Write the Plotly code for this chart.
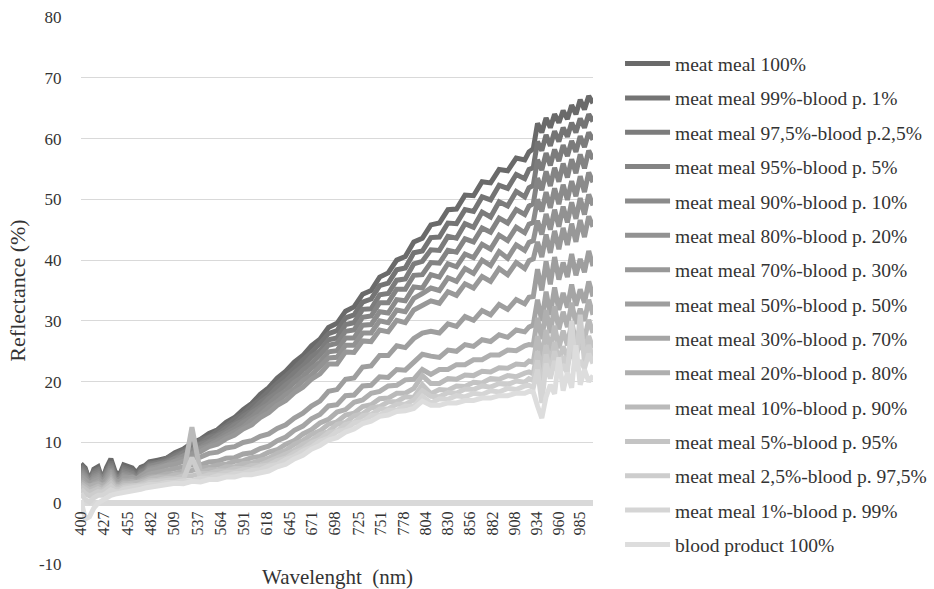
import plotly.graph_objects as go

wavelength = [400, 405, 410, 415, 420, 425, 430, 435, 440, 445, 450, 455, 460, 465, 470, 475, 480,
              490, 500, 510, 520, 530, 540, 550, 560, 570, 580,
              590, 600, 610, 620, 630, 640, 650, 660, 670, 680,
              690, 700, 710, 720, 730, 740, 750, 760, 770, 780,
              790, 800, 810, 820, 830, 840, 850, 860, 870, 880,
              890, 900, 910, 920,
              925, 930, 935, 940, 945, 950, 955, 960, 965, 970, 975, 980, 985, 990, 995, 1000]

tick_labels = [400, 427, 455, 482, 509, 537, 564, 591, 618, 645, 671, 698,
               725, 751, 778, 804, 830, 856, 882, 908, 934, 960, 985]

y_ticks = [-10, 0, 10, 20, 30, 40, 50, 60, 70, 80]
y_tick_text = ["-10", "0", "10", "20", "30", "40", "50", "60", "70", "80"]

series_names = [
    "meat meal 100%",
    "meat meal 99%-blood p. 1%",
    "meat meal 97,5%-blood p.2,5%",
    "meat meal 95%-blood p. 5%",
    "meat meal 90%-blood p. 10%",
    "meat meal 80%-blood p. 20%",
    "meat meal 70%-blood p. 30%",
    "meat meal 50%-blood p. 50%",
    "meat meal 30%-blood p. 70%",
    "meat meal 20%-blood p. 80%",
    "meat meal 10%-blood p. 90%",
    "meat meal 5%-blood p. 95%",
    "meat meal 2,5%-blood p. 97,5%",
    "meat meal 1%-blood p. 99%",
    "blood product 100%",
]

mm100 = [6.5, 5.8, 3.5, 5.6, 6.0, 3.8, 5.9, 7.3, 5.2, 4.6, 6.3, 6.0, 5.8, 5.0, 5.9, 6.2, 6.8,
         7.1, 7.4, 8.3, 8.9, 9.9, 10.5, 11.5, 12.1, 13.3, 14.1,
         15.4, 16.4, 17.9, 19.0, 20.6, 21.7, 23.2, 24.3, 25.9, 27.0,
         28.9, 29.6, 31.6, 32.3, 34.4, 35.0, 37.2, 37.9, 40.0, 40.6,
         43.0, 43.6, 45.8, 46.1, 48.3, 48.4, 50.7, 50.6, 52.9, 52.7,
         54.9, 54.7, 56.8, 56.5,
         57.8, 58.3, 62.5, 61.0, 63.4, 61.8, 64.0, 62.6, 64.6, 63.2, 65.5, 64.0, 66.4, 64.8, 67.0, 65.8]
mm99 = [6.2, 5.5, 4.0, 5.3, 5.6, 4.2, 5.5, 6.8, 4.9, 4.4, 5.9, 5.7, 5.4, 4.7, 5.6, 5.9, 6.6,
        6.7, 7.4, 7.9, 8.8, 9.4, 10.4, 10.9, 11.9, 12.7, 13.8,
        14.7, 16.0, 17.1, 18.5, 19.7, 21.1, 22.2, 23.6, 24.8, 26.3,
        27.9, 28.4, 30.5, 31.0, 33.1, 33.6, 35.8, 36.2, 38.4, 38.7,
        41.2, 41.5, 43.7, 43.8, 46.1, 46.0, 48.3, 48.0, 50.4, 49.9,
        52.3, 51.8, 54.1, 53.4,
        54.9, 55.2, 59.5, 58.0, 60.6, 58.8, 61.2, 59.5, 61.8, 60.3, 62.6, 61.0, 63.3, 61.8, 64.0, 62.8]
mm975 = [6.0, 5.2, 3.3, 5.0, 5.4, 3.5, 5.2, 6.5, 4.6, 3.8, 5.6, 5.4, 5.1, 4.3, 5.3, 5.6, 6.4,
         6.7, 7.0, 7.8, 8.4, 9.3, 9.8, 10.8, 11.3, 12.4, 13.1,
         14.3, 15.2, 16.6, 17.6, 19.1, 20.1, 21.5, 22.6, 24.1, 25.1,
         26.9, 27.2, 29.4, 29.7, 31.9, 32.0, 34.3, 34.5, 36.7, 36.9,
         39.4, 39.8, 41.7, 41.6, 43.9, 43.6, 46.0, 45.4, 47.9, 47.1,
         49.6, 48.9, 51.3, 50.4,
         51.9, 52.3, 56.5, 54.8, 57.6, 55.6, 58.2, 56.3, 58.9, 57.1, 59.6, 57.8, 60.4, 58.6, 61.0, 59.8]
mm95 = [5.7, 4.9, 3.8, 4.8, 5.1, 3.9, 5.0, 6.2, 4.4, 4.2, 5.3, 5.1, 4.9, 4.1, 5.1, 5.4, 6.2,
        6.4, 7.0, 7.4, 8.3, 8.8, 9.7, 10.2, 11.1, 11.8, 12.9,
        13.6, 14.9, 15.8, 17.2, 18.2, 19.5, 20.5, 21.9, 23.0, 24.4,
        26.0, 26.3, 28.3, 28.5, 30.6, 30.8, 33.0, 33.0, 35.2, 35.2,
        37.5, 37.6, 39.6, 39.5, 41.6, 41.3, 43.5, 43.0, 45.3, 44.6,
        46.9, 46.1, 48.3, 47.5,
        48.9, 49.3, 53.5, 51.5, 54.6, 52.2, 55.2, 52.9, 55.9, 53.6, 56.6, 54.3, 57.4, 55.1, 58.0, 56.6]
mm90 = [5.4, 4.6, 3.0, 4.5, 4.8, 3.2, 4.7, 5.9, 4.1, 3.4, 5.0, 4.9, 4.6, 3.8, 4.8, 5.1, 6.0,
        6.4, 6.6, 7.4, 7.8, 8.7, 9.2, 10.0, 10.5, 11.5, 12.2,
        13.3, 14.1, 15.4, 16.3, 17.6, 18.5, 19.9, 20.8, 22.2, 23.2,
        24.9, 25.1, 27.2, 27.2, 29.3, 29.4, 31.5, 31.3, 33.5, 33.3,
        35.6, 35.4, 37.6, 37.2, 39.4, 38.9, 41.0, 40.4, 42.6, 41.8,
        44.1, 43.2, 45.4, 44.5,
        45.9, 46.2, 50.0, 48.0, 51.2, 48.6, 51.8, 49.2, 52.4, 49.9, 53.0, 50.5, 53.8, 51.2, 54.4, 52.8]
mm80 = [5.1, 4.3, 3.5, 4.2, 4.5, 3.6, 4.4, 5.6, 3.9, 3.9, 4.7, 4.6, 4.4, 3.6, 4.6, 4.9, 5.8,
        6.0, 6.6, 6.9, 7.8, 8.2, 9.0, 9.5, 10.3, 10.9, 11.9,
        12.5, 13.7, 14.5, 15.8, 16.7, 17.9, 18.8, 20.2, 21.1, 22.5,
        23.9, 24.0, 26.0, 26.0, 28.0, 28.0, 30.0, 29.7, 31.8, 31.5,
        33.7, 34.5, 35.4, 35.0, 37.1, 36.5, 38.6, 37.8, 40.0, 39.1,
        41.4, 40.3, 42.5, 41.6,
        42.9, 43.2, 46.5, 44.2, 47.6, 45.0, 48.3, 45.5, 48.8, 46.2, 49.5, 46.8, 50.2, 47.5, 50.8, 49.0]
mm70 = [4.8, 4.0, 2.8, 3.9, 4.2, 3.0, 4.1, 5.3, 3.6, 3.2, 4.5, 4.4, 4.1, 3.4, 4.3, 4.6, 5.6,
        6.0, 6.2, 6.9, 7.3, 8.1, 8.5, 9.3, 9.7, 10.6, 11.2,
        12.2, 12.9, 14.1, 14.9, 16.1, 16.9, 18.2, 19.1, 20.4, 21.3,
        22.9, 22.9, 24.9, 24.8, 26.7, 26.6, 28.5, 28.2, 30.1, 29.7,
        31.8, 32.5, 33.3, 32.9, 34.8, 34.2, 36.1, 35.4, 37.3, 36.5,
        38.6, 37.6, 39.6, 38.6,
        39.9, 40.2, 43.0, 40.5, 44.2, 41.2, 44.8, 41.8, 45.3, 42.5, 46.0, 43.0, 46.6, 43.8, 47.2, 45.5]
mm50 = [4.4, 3.8, 3.2, 3.6, 3.9, 3.3, 3.9, 4.9, 3.7, 3.5, 4.2, 4.2, 4.3, 4.0, 4.5, 4.9, 5.4,
        5.7, 6.2, 6.4, 7.0, 7.4, 7.6, 8.2, 8.4, 9.1, 9.3,
        10.0, 10.3, 11.0, 11.4, 12.3, 12.9, 14.0, 14.8, 16.0, 16.8,
        18.4, 18.7, 20.4, 20.6, 22.4, 22.6, 24.3, 24.3, 25.9, 25.6,
        27.1, 28.0, 28.3, 28.0, 29.5, 29.1, 30.7, 30.1, 31.7, 31.0,
        32.7, 31.9, 33.5, 32.8,
        33.9, 34.0, 38.5, 35.0, 39.8, 36.0, 40.5, 36.8, 39.6, 37.2, 41.0, 37.5, 40.2, 38.0, 41.5, 39.0]
mm30 = [4.0, 3.4, 2.6, 3.2, 3.5, 2.8, 3.5, 4.5, 3.3, 3.0, 3.8, 3.8, 3.9, 3.6, 4.1, 4.4, 4.8,
        5.1, 5.2, 5.7, 5.8, 6.3, 6.3, 6.8, 6.9, 7.4, 7.5,
        8.1, 8.3, 9.0, 9.4, 10.3, 10.9, 12.0, 12.7, 13.9, 14.6,
        16.0, 16.2, 17.7, 17.8, 19.3, 19.4, 20.8, 20.7, 22.0, 21.9,
        23.2, 24.5, 24.2, 24.0, 25.2, 25.0, 26.1, 25.8, 26.9, 26.6,
        27.7, 27.3, 28.5, 28.2,
        29.0, 29.3, 33.5, 30.0, 34.8, 31.0, 35.5, 31.8, 34.6, 32.2, 36.0, 32.5, 35.2, 33.0, 36.5, 34.0]
mm20 = [3.6, 3.0, 2.8, 2.9, 3.2, 2.9, 3.2, 4.1, 3.0, 3.0, 3.5, 3.5, 3.6, 3.4, 3.8, 4.0, 4.3,
        4.4, 4.8, 4.9, 5.3, 5.4, 5.8, 5.9, 6.3, 6.4, 6.9,
        7.0, 7.5, 7.7, 8.4, 8.8, 9.7, 10.3, 11.4, 12.1, 13.2,
        13.8, 15.0, 15.4, 16.6, 17.0, 18.1, 18.4, 19.3, 19.4, 20.3,
        20.4, 22.0, 21.2, 22.0, 22.0, 22.8, 22.8, 23.6, 23.6, 24.4,
        24.4, 25.2, 25.1, 25.9,
        26.1, 26.0, 30.5, 27.0, 31.8, 28.0, 32.4, 28.6, 31.5, 29.0, 33.0, 29.5, 32.0, 30.0, 33.5, 31.0]
mm10 = [3.2, 2.6, 2.2, 2.5, 2.8, 2.4, 2.9, 3.7, 2.8, 2.7, 3.2, 3.2, 3.3, 3.2, 3.5, 3.7, 4.0,
        4.3, 4.3, 4.7, 4.7, 12.5, 5.1, 5.5, 5.5, 6.0, 6.0,
        6.5, 6.6, 7.1, 7.4, 8.2, 8.7, 9.7, 10.3, 11.3, 11.9,
        13.0, 13.4, 14.5, 14.8, 15.9, 16.2, 17.2, 17.3, 18.1, 18.1,
        18.9, 21.0, 19.7, 19.7, 20.5, 20.4, 21.1, 21.0, 21.7, 21.6,
        22.3, 22.2, 22.9, 22.8,
        23.4, 23.2, 27.5, 24.0, 28.5, 25.0, 29.2, 25.5, 28.4, 26.0, 29.8, 26.4, 29.0, 27.0, 30.2, 28.0]
mm5 = [2.8, 2.2, 1.8, 2.1, 2.4, 2.1, 2.6, 3.3, 2.5, 2.5, 2.9, 3.0, 3.0, 2.9, 3.2, 3.4, 3.7,
       3.8, 4.1, 4.1, 4.5, 4.5, 4.9, 4.9, 5.3, 5.3, 5.7,
       5.7, 6.2, 6.3, 6.9, 7.3, 8.1, 8.7, 9.7, 10.3, 11.3,
       11.8, 13.0, 13.3, 14.4, 14.7, 15.7, 15.9, 16.7, 16.7, 17.5,
       17.4, 19.5, 18.0, 18.7, 18.6, 19.3, 19.2, 19.9, 19.8, 20.5,
       20.4, 21.0, 20.8, 21.4,
       21.6, 21.3, 25.0, 22.0, 26.0, 22.8, 26.5, 23.4, 25.8, 24.0, 27.0, 24.3, 26.4, 24.8, 27.5, 25.5]
mm25 = [2.3, 1.6, 1.2, 1.6, 1.9, 1.8, 2.2, 2.8, 2.2, 2.2, 2.6, 2.7, 2.8, 2.7, 3.0, 3.1, 3.4,
        3.6, 3.6, 3.9, 3.9, 7.5, 4.3, 4.7, 4.7, 5.1, 5.1,
        5.5, 5.6, 6.1, 6.3, 7.0, 7.4, 8.3, 8.9, 9.9, 10.5,
        11.6, 11.9, 13.0, 13.3, 14.4, 14.6, 15.5, 15.5, 16.3, 16.3,
        17.0, 18.5, 17.6, 17.5, 18.2, 18.1, 18.8, 18.7, 19.3, 19.1,
        19.7, 19.5, 20.1, 19.9,
        20.5, 20.2, 23.5, 19.0, 24.5, 21.5, 25.0, 22.0, 24.2, 22.5, 25.5, 22.8, 31.0, 23.2, 26.0, 24.0]
mm1 = [1.6, 0.6, 0.2, 0.9, 1.3, 1.3, 1.7, 2.2, 1.9, 1.9, 2.3, 2.4, 2.5, 2.5, 2.7, 2.9, 3.1,
       3.1, 3.4, 3.4, 3.7, 3.7, 4.1, 4.1, 4.5, 4.5, 4.9,
       4.9, 5.4, 5.5, 6.1, 6.4, 7.2, 7.7, 8.6, 9.2, 10.2,
       10.7, 11.8, 12.1, 13.2, 13.4, 14.4, 14.5, 15.3, 15.3, 16.0,
       15.9, 17.6, 16.5, 17.2, 17.1, 17.7, 17.5, 18.1, 17.9, 18.5,
       18.3, 18.9, 18.7, 19.3,
       19.4, 19.0, 22.0, 16.5, 23.0, 20.5, 23.4, 21.0, 22.8, 21.4, 30.0, 21.8, 23.5, 22.2, 24.6, 23.0]
blood100 = [0.5, -2.6, -2.2, -0.8, 0.0, 0.5, 0.9, 1.3, 1.5, 1.6, 1.8, 2.0, 2.1, 2.2, 2.3, 2.5, 2.6,
            2.9, 2.9, 3.3, 3.2, 3.6, 3.5, 3.9, 3.9, 4.3, 4.3,
            4.7, 4.7, 5.1, 5.3, 6.0, 6.4, 7.3, 7.9, 8.9, 9.5,
            10.4, 10.8, 11.7, 12.2, 13.1, 13.5, 14.3, 14.5, 15.1, 15.2,
            15.6, 16.8, 16.1, 16.1, 16.5, 16.5, 16.9, 16.9, 17.3, 17.3,
            17.7, 17.7, 18.1, 18.1,
            18.4, 18.3, 16.0, 14.0, 17.5, 19.5, 18.0, 24.0, 18.5, 21.5, 19.0, 26.0, 19.5, 22.0, 20.0, 21.0]

series_values = [mm100, mm99, mm975, mm95, mm90, mm80, mm70, mm50,
                 mm30, mm20, mm10, mm5, mm25, mm1, blood100]

gray_levels = [106, 116, 124, 132, 139, 146, 152, 158, 165, 175, 186, 196, 205, 213, 221]
colors = [f"rgb({g},{g},{g})" for g in gray_levels]

FONT = "Liberation Serif, Times New Roman, serif"
TXT = "#333333"

fig = go.Figure()
for name, vals, col in zip(series_names, series_values, colors):
    fig.add_trace(go.Scatter(
        x=wavelength, y=vals, mode="lines", name=name,
        legendgroup=name,
        line=dict(color=col, width=5),
        hoverinfo="skip",
    ))

fig.update_layout(
    width=934, height=589,
    margin=dict(l=81, r=341, t=17, b=25, autoexpand=False),
    plot_bgcolor="white", paper_bgcolor="white",
    font=dict(family=FONT, color=TXT),
    showlegend=True,
    legend=dict(
        x=1.0528, y=0.950, xanchor="left", yanchor="top",
        font=dict(family=FONT, size=19.5, color=TXT),
        tracegroupgap=6,
        itemwidth=45,
        maxheight=600,
        bgcolor="rgba(0,0,0,0)",
    ),
    xaxis=dict(
        range=[400, 1000],
        tickmode="array", tickvals=tick_labels, ticktext=[str(t) for t in tick_labels],
        tickangle=-90,
        anchor="free", position=10 / 90 - 4 / 547,
        showgrid=False, showline=False, zeroline=False,
        ticks="",
        tickfont=dict(family=FONT, size=16, color=TXT),
    ),
    yaxis=dict(
        range=[-10, 80],
        tickmode="array", tickvals=y_ticks, ticktext=y_tick_text,
        showgrid=True, gridcolor="#d9d9d9", gridwidth=1,
        zeroline=True, zerolinecolor="#d9d9d9", zerolinewidth=6,
        showline=False,
        ticks="outside", ticklen=15, tickcolor="rgba(0,0,0,0)",
        tickfont=dict(family=FONT, size=17, color=TXT),
        title=dict(text="Reflectance (%)", font=dict(family=FONT, size=22, color=TXT), standoff=7),
    ),
    annotations=[dict(
        text="Wavelenght  (nm)", xref="paper", yref="paper", x=0.5, y=0,
        xanchor="center", yanchor="middle", yshift=-13, showarrow=False,
        font=dict(family=FONT, size=21, color=TXT),
    )],
)

fig.write_html("out.html", config={"displayModeBar": False},
               post_script="document.body.style.margin='0';")
